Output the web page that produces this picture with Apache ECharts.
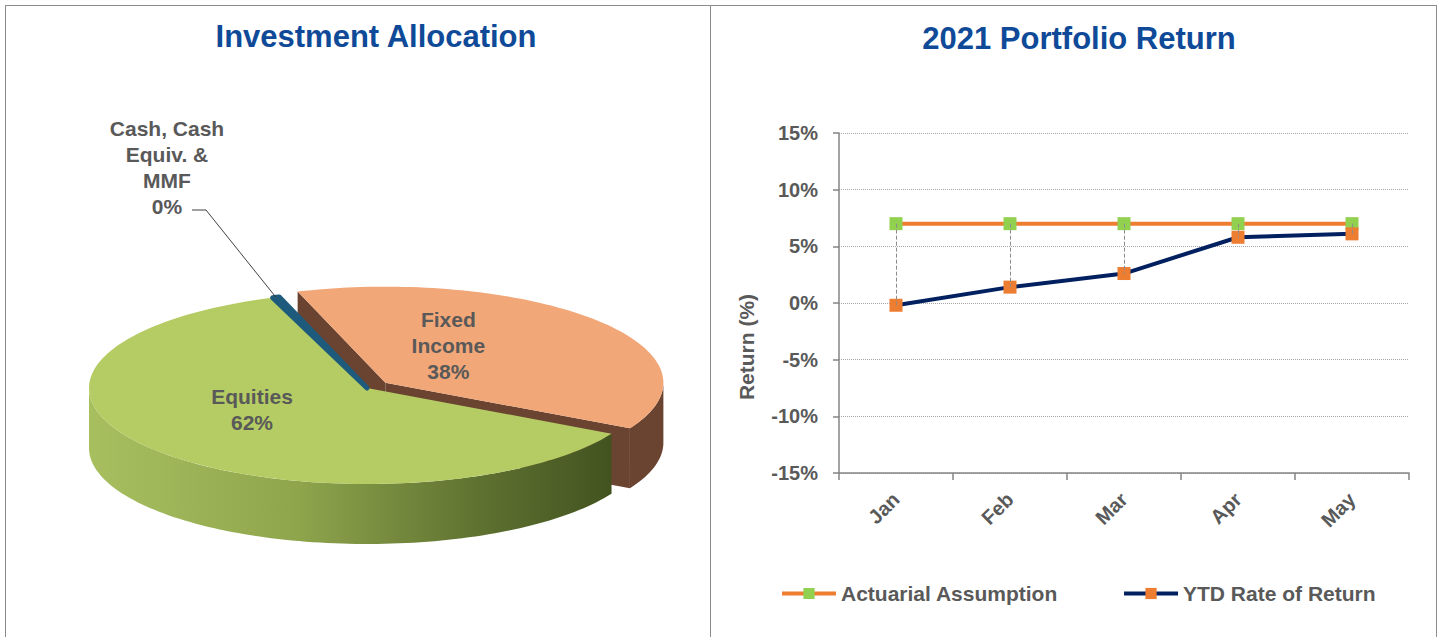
<!DOCTYPE html>
<html>
<head>
<meta charset="utf-8">
<title>Investment Allocation / 2021 Portfolio Return</title>
<script src="https://cdn.jsdelivr.net/npm/echarts@6/dist/echarts.min.js"></script>
<style>
  html, body { margin: 0; padding: 0; background: #fff; }
  #main { position: absolute; left: 0; top: 0; width: 1442px; height: 637px; }
  .frame { position: absolute; box-sizing: border-box; border: 0 solid #8c8c8c; pointer-events: none; }
</style>
</head>
<body>
<div id="main"></div>
<div class="frame" style="left:5px; top:5px; width:706px; height:640px; border-top-width:1px; border-left-width:1px; border-right-width:1px;"></div>
<div class="frame" style="left:710px; top:5px; width:727px; height:640px; border-top-width:1px; border-right-width:1px;"></div>
<script>
// 饼图数据 (%)
var pieNames = ['Equities', 'Cash, Cash Equiv. & MMF', 'Fixed Income'];
var pieValues = [61.6, 0.4, 38.0];

// 折线图数据
var months = ['Jan', 'Feb', 'Mar', 'Apr', 'May'];
var actuarial = [7, 7, 7, 7, 7];
var ytdReturn = [-0.2, 1.4, 2.6, 5.8, 6.1];
var yTicks = [-15, -10, -5, 0, 5, 10, 15];

var FONT = '"Liberation Sans", Arial, sans-serif';
var GREY = '#595959';

// 3D 饼图的外观 (位置, 厚度, 颜色)
var pieLayout = {
  cx: 367, cy: 388, rx: 278, ry: 96, depth: 60,
  startAngle: 28.4,          // 屏幕角度, 顺时针
  explode: [0, 0, 24],
  layer: [2, 3, 1],          // 绘制顺序
  topColor: ['#b4cc63', '#1e5a7c', '#f2a778'],
  sideColor: [
    new echarts.graphic.LinearGradient(0, 0, 1, 0, [
      { offset: 0, color: '#a8bf60' },
      { offset: 0.4, color: '#8ea54c' },
      { offset: 0.75, color: '#5e7130' },
      { offset: 1, color: '#435320' }
    ]),
    '#18475f',
    '#6b4431'
  ],
  labelText: ['Equities', 'Cash, Cash\nEquiv. &\nMMF', 'Fixed\nIncome'],
  labelOffset: [[-115, 21], null, [63, -37]],
  outsideLabel: { at: [167, 167], elbow: [206, 210], end: [192, 210] }
};

function ellPt(t, ox, oy, down) {
  var r = t * Math.PI / 180;
  return [pieLayout.cx + ox + pieLayout.rx * Math.cos(r),
          pieLayout.cy + oy + pieLayout.ry * Math.sin(r) + (down ? pieLayout.depth : 0)];
}

function arcPts(a, b, ox, oy, down) {
  var n = Math.max(2, Math.ceil(Math.abs(b - a) / 1.5));
  var pts = [];
  for (var k = 0; k <= n; k++) pts.push(ellPt(a + (b - a) * k / n, ox, oy, down));
  return pts;
}

function renderSlice(params, api) {
  var i = params.dataIndex;
  var L = pieLayout;
  var total = pieValues.reduce(function (s, v) { return s + v; }, 0);
  var a0 = L.startAngle;
  for (var j = 0; j < i; j++) a0 += pieValues[j] / total * 360;
  var val = api.value(0);
  var a1 = a0 + val / total * 360;
  var mid = (a0 + a1) / 2;
  var mr = mid * Math.PI / 180;
  var ox = L.explode[i] * Math.cos(mr);
  var oy = L.explode[i] * Math.sin(mr) * L.ry / L.rx;
  var tip = [L.cx + ox, L.cy + oy];
  var tipDown = [tip[0], tip[1] + L.depth];
  var base = L.layer[i] * 100;
  var children = [];

  // 切面 (只有分离出来的扇区才看得到)
  function cutWall(t) {
    var p = ellPt(t, ox, oy, false), q = ellPt(t, ox, oy, true);
    children.push({ type: 'polygon', z2: base + 1,
      shape: { points: [tip, p, q, tipDown] },
      style: { fill: L.sideColor[i] } });
  }
  if (L.explode[i] > 0) {
    if (Math.cos(a0 * Math.PI / 180) < 0) cutWall(a0);
    if (Math.cos(a1 * Math.PI / 180) > 0) cutWall(a1);
  }

  // 外侧面 (只画前半部分)
  [-360, 0, 360].forEach(function (k) {
    var s = Math.max(a0, k), e = Math.min(a1, k + 180);
    if (e > s) {
      var pts = arcPts(s, e, ox, oy, false).concat(arcPts(e, s, ox, oy, true));
      children.push({ type: 'polygon', z2: base + 2,
        shape: { points: pts },
        style: { fill: L.sideColor[i] } });
    }
  });

  // 顶面
  var thin = val / total < 0.02;
  children.push({ type: 'polygon', z2: base + 5,
    shape: { points: [tip].concat(arcPts(a0, a1, ox, oy, false)) },
    style: { fill: L.topColor[i], stroke: thin ? L.topColor[i] : null, lineWidth: thin ? 5 : 0, lineJoin: 'round' } });

  // 标签
  var txt = L.labelText[i] + '\n' + Math.round(val / total * 100) + '%';
  var off = L.labelOffset[i];
  var font = 'bold 21px ' + FONT;
  if (off) {
    children.push({ type: 'text', z2: 1000,
      style: { text: txt, x: tip[0] + off[0], y: tip[1] + off[1],
        fill: GREY, font: font, lineHeight: 26,
        textAlign: 'center', textVerticalAlign: 'middle' } });
  } else {
    var o = L.outsideLabel;
    var rim = ellPt(mid, ox, oy, false);
    children.push({ type: 'polyline', z2: 999,
      shape: { points: [rim, o.elbow, o.end] },
      style: { stroke: '#404040', lineWidth: 1, fill: null } });
    children.push({ type: 'text', z2: 1000,
      style: { text: txt, x: o.at[0], y: o.at[1],
        fill: GREY, font: font, lineHeight: 26,
        textAlign: 'center', textVerticalAlign: 'middle' } });
  }
  return { type: 'group', children: children };
}

var chart = echarts.init(document.getElementById('main'), null, { renderer: 'svg' });

var axisColor = '#858585';

var option = {
  animation: false,
  backgroundColor: 'transparent',
  title: [
    { text: 'Investment Allocation', left: 371, top: 16, textAlign: 'center',
      textStyle: { color: '#0f4a99', fontSize: 31, fontWeight: 'bold', fontFamily: FONT } },
    { text: '2021 Portfolio Return', left: 1074, top: 18, textAlign: 'center',
      textStyle: { color: '#0f4a99', fontSize: 31, fontWeight: 'bold', fontFamily: FONT } }
  ],
  legend: {
    data: ['Actuarial Assumption', 'YTD Rate of Return'],
    left: 775, top: 578,
    itemWidth: 54, itemHeight: 14, itemGap: 64,
    lineStyle: { width: 4 },
    textStyle: { color: GREY, fontSize: 21, fontWeight: 'bold', fontFamily: FONT }
  },
  grid: { left: 839, right: 33, top: 133, bottom: 164 },
  xAxis: {
    type: 'category',
    data: months,
    boundaryGap: true,
    axisLine: { onZero: false, lineStyle: { color: axisColor, width: 1.5 } },
    axisTick: { show: true, length: 7, lineStyle: { color: axisColor, width: 1.5 } },
    axisLabel: { rotate: 45, margin: 23, color: GREY, fontSize: 20, fontWeight: 'bold', fontFamily: FONT },
    splitLine: { show: false }
  },
  yAxis: {
    type: 'value',
    min: yTicks[0], max: yTicks[yTicks.length - 1], interval: 5,
    name: 'Return (%)',
    nameLocation: 'middle',
    nameRotate: 90,
    nameGap: 82,
    nameTextStyle: { color: GREY, fontSize: 21, fontWeight: 'bold', fontFamily: FONT, padding: [0, 88, 0, 0] },
    axisLine: { show: true, lineStyle: { color: axisColor, width: 1.5 } },
    axisTick: { show: true, length: 6, lineStyle: { color: axisColor, width: 1.5 } },
    axisLabel: { formatter: '{value}%', margin: 21, color: GREY, fontSize: 20, fontWeight: 'bold', fontFamily: FONT },
    splitLine: { lineStyle: { color: '#a6a6a6', type: 'dotted', width: 1 } }
  },
  series: [
    {
      name: 'Allocation',
      type: 'custom',
      coordinateSystem: 'none',
      renderItem: renderSlice,
      data: pieValues.map(function (v, i) { return { name: pieNames[i], value: [v] }; }),
      silent: true
    },
    {
      name: 'Actuarial Assumption',
      type: 'line',
      data: actuarial,
      symbol: 'rect',
      symbolSize: 13,
      z: 3,
      lineStyle: { color: '#ed7d31', width: 4 },
      itemStyle: { color: '#92d050' },
      markLine: {
        silent: true,
        symbol: ['none', 'none'],
        label: { show: false },
        lineStyle: { color: '#8c8c8c', type: 'dashed', width: 1 },
        data: months.map(function (m, i) {
          return [{ coord: [m, actuarial[i]] }, { coord: [m, ytdReturn[i]] }];
        })
      }
    },
    {
      name: 'YTD Rate of Return',
      type: 'line',
      data: ytdReturn,
      symbol: 'rect',
      symbolSize: 13,
      z: 4,
      lineStyle: { color: '#002060', width: 4 },
      itemStyle: { color: '#ed7d31' }
    }
  ]
};

chart.setOption(option);
</script>
</body>
</html>
